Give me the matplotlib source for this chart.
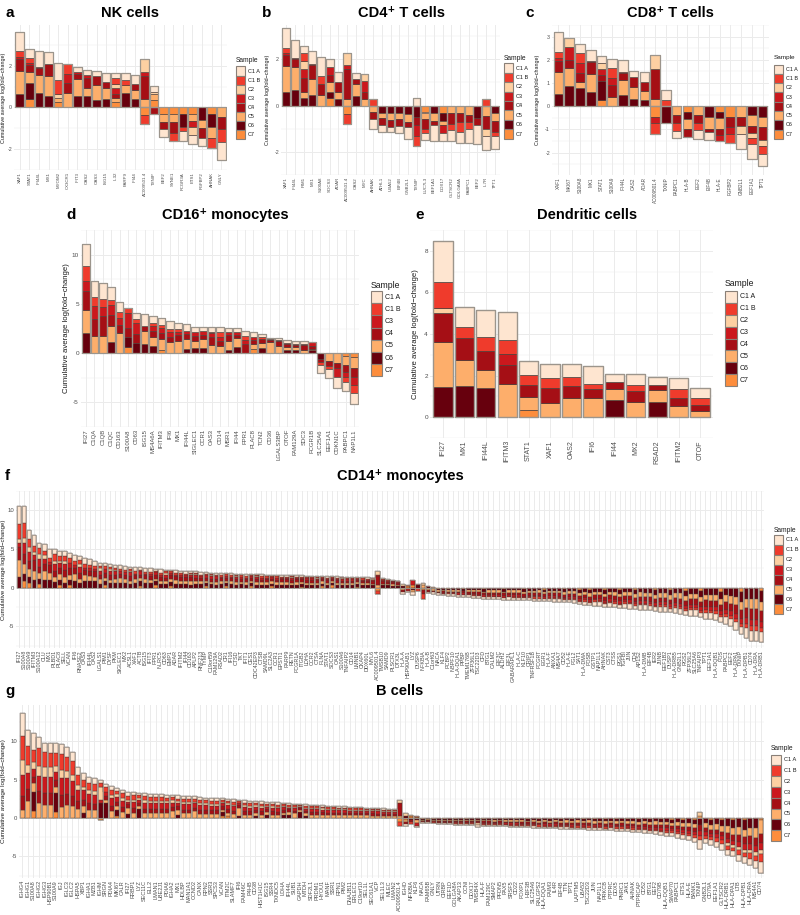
import matplotlib
matplotlib.use("Agg")
import matplotlib.pyplot as plt
from matplotlib.patches import Rectangle
import numpy as np

plt.rcParams['font.family'] = ['Liberation Sans', 'DejaVu Sans']
plt.rcParams['axes.unicode_minus'] = False

W, H = 800, 915
fig = plt.figure(figsize=(W / 100, H / 100), dpi=100)

# stacking order from zero outward: [C7, C6, C5, C4, C3, C2, C1 B, C1 A]
STACK = ["C7", "C6", "C5", "C4", "C3", "C2", "C1 B", "C1 A"]
COLORS = {"C1 A": "#FEE5D0", "C1 B": "#EF3B2C", "C2": "#FDD0A2", "C3": "#CB181D",
          "C4": "#A50F15", "C5": "#FDAE6B", "C6": "#67000D", "C7": "#FD8D3C"}
LEGEND_ALL = ["C1 A", "C1 B", "C2", "C3", "C4", "C5", "C6", "C7"]
LEGEND_D = ["C1 A", "C1 B", "C3", "C4", "C5", "C6", "C7"]

# ---------------- Panel a: NK cells ----------------
A_GENES = ["XAF1", "STAT1", "IFI44L", "MX1", "MYOM2", "CX3CR1", "IFIT3", "OAS2", "OAS3", "ISG15",
           "IL32", "PARP9", "IFI44", "AC009501.4", "TXNIP", "EEF2", "SYNE1", "FCGR3A", "ETS1",
           "FGFBP2", "AHNAK", "GNLY"]
A_VALUES = [
    [0, .65, 1.11, .56, .11, 0, .27, .92],
    [.39, .79, .5, .35, .1, 0, .23, .45],
    [0, .7, .83, .35, .06, 0, 0, .77],
    [0, .55, .95, .56, 0, 0, 0, .58],
    [.24, 0, .23, 0, 0, .15, .68, .82],
    [0, 0, .7, .45, .45, 0, .5, 0],
    [0, .55, .83, .2, .1, 0, 0, .24],
    [0, .55, .38, .5, .1, 0, 0, .26],
    [0, .36, .71, .45, 0, 0, 0, .23],
    [0, .39, .53, .3, 0, 0, 0, .44],
    [.24, 0, .23, .15, .3, .2, .27, .25],
    [0, .7, .38, 0, 0, 0, .23, .32],
    [0, .39, .45, .27, 0, 0, 0, .45],
    [-.35, 0, .4, 1.1, .2, .6, -.45, 0],
    [.35, 0, .3, -.32, 0, .1, 0, .3],
    [-.3, 0, -.4, -.35, 0, 0, 0, -.35],
    [-.3, 0, -.4, -.55, 0, 0, -.35, 0],
    [-.3, -.65, 0, 0, 0, 0, -.2, -.45],
    [-.3, 0, -.35, 0, -.3, -.35, 0, -.45],
    [0, -.6, -.4, -.45, 0, 0, 0, -.4],
    [-.3, -.65, -.5, 0, 0, 0, -.5, 0],
    [0, 0, -.45, -.6, 0, 0, -.6, -.85],
]

# ---------------- Panel b: CD4+ T cells ----------------
B_GENES = ["XAF1", "IFI44L", "PIM1", "MX1", "S100A8", "SOCS3", "ADAR", "AC009501.4", "OAS2", "MYC",
           "AHNAK", "ATHL1", "UBA52", "EIF4B", "GNB2L1", "TXNIP", "LUC7L3", "EEF1A1", "DDX17",
           "GLTSCR2", "GOLGA8A", "PABPC1", "EEF2", "IL7R", "TPT1"]
B_VALUES = [
    [0, .6, 1.13, .45, .08, 0, .23, .84],
    [0, .67, 1.0, .35, .05, 0, 0, .77],
    [0, .33, .27, .6, .4, .33, .33, .31],
    [0, .47, .67, .6, .07, 0, 0, .56],
    [0, 0, .47, .47, 0, 0, .33, .83],
    [.33, .27, .4, .33, .33, 0, 0, .37],
    [0, .27, .33, .43, 0, 0, 0, .44],
    [-.35, 0, .27, 1.3, .17, .53, -.45, 0],
    [0, .4, .53, .2, 0, 0, 0, .29],
    [0, 0, .27, .33, .44, .33, 0, 0],
    [0, 0, -.27, -.33, 0, 0, .27, -.43],
    [0, -.33, -.2, -.33, 0, 0, 0, -.27],
    [0, -.33, -.3, -.3, 0, 0, 0, -.23],
    [0, -.33, -.27, -.27, 0, 0, 0, -.33],
    [0, -.36, -.35, -.23, 0, 0, 0, -.5],
    [0, -.5, 0, -.35, -.45, 0, -.45, .33],
    [-.3, 0, -.3, -.4, 0, 0, -.2, -.27],
    [0, -.33, -.33, -.2, 0, 0, 0, -.67],
    [-.33, -.33, -.2, 0, -.33, 0, 0, -.33],
    [0, 0, -.33, -.47, 0, 0, -.27, -.47],
    [0, 0, -.33, -.4, 0, 0, -.4, -.47],
    [0, 0, -.4, -.33, 0, 0, -.27, -.6],
    [0, -.53, 0, -.33, 0, 0, 0, -.8],
    [0, 0, -.47, -.53, 0, -.3, .27, -.6],
    [0, -.33, -.33, -.47, 0, 0, -.2, -.53],
]

# ---------------- Panel c: CD8+ T cells ----------------
C_GENES = ["XAF1", "MKI67", "S100A8", "MX1", "STAT1", "S100A9", "IFI44L", "OAS2", "ADAR",
           "AC009501.4", "TXNIP", "PABPC1", "HLA-B", "EEF2", "EIF4B", "HLA-E", "FGFBP2",
           "GNB2L1", "EEF1A1", "TPT1"]
C_VALUES = [
    [0, .52, .95, .5, .13, 0, .24, .84],
    [0, .89, .74, .38, .53, .42, 0, 0],
    [0, .8, .25, .4, .42, 0, .42, .39],
    [0, .61, .78, .5, .06, 0, 0, .47],
    [.28, .8, 0, .25, .28, .24, 0, .32],
    [0, 0, .4, .5, .3, 0, .45, .4],
    [0, .47, .64, .33, .05, 0, 0, .49],
    [0, .31, .52, .43, 0, 0, 0, .27],
    [0, .28, .38, .38, 0, 0, 0, .42],
    [-.46, 0, .33, 1.26, -.28, .6, -.46, 0],
    [0, -.7, 0, 0, 0, 0, .28, .42],
    [0, 0, -.36, -.35, 0, 0, -.36, -.31],
    [-.25, -.28, -.45, -.36, 0, 0, 0, 0],
    [0, 0, -.36, -.35, 0, 0, -.32, -.38],
    [0, -.46, -.52, -.14, 0, 0, 0, -.32],
    [-.25, -.25, -.47, -.25, -.28, 0, 0, 0],
    [-.46, 0, 0, -.45, -.3, 0, -.37, 0],
    [0, 0, -.46, -.38, 0, -.36, 0, -.66],
    [0, -.39, -.45, -.32, 0, -.21, -.25, -.66],
    [0, -.46, -.42, -.56, 0, -.28, -.35, -.49],
]

# ---------------- Panel d: CD16+ monocytes ----------------
D_GENES = ["IFI27", "C1QA", "C1QB", "C1QC", "CD163", "S100A8", "CD63", "ISG15", "MS4A6A", "IFITM3",
           "IFI6", "MX1", "IFI44L", "SIGLEC1", "CCR1", "OAS3", "CD14", "MSR1", "IFI44", "FPR1",
           "PLAC8", "TCN2", "CD36", "LGALS3BP", "OTOF", "FAM129A", "SDC3", "FCGR1B", "SLC25A6",
           "EEF1A1", "CDKN1C", "PABPC1", "NAP1L1"]
D_VALUES = [
    [0, 2.06, 2.33, 1.9, 1.06, 0, 1.5, 2.24],
    [0, 0, 1.76, 1.73, 1.3, 0, .9, 1.64],
    [0, 0, 1.76, 2.0, .9, 0, .85, 1.58],
    [0, 1.12, 1.6, 1.2, .97, 0, .55, 1.27],
    [0, 0, 2.06, .82, .7, 0, .58, 1.0],
    [.65, 1.0, 0, .95, 1.5, 0, .5, 0],
    [0, 1.0, 0, .97, 1.06, 0, .4, .6],
    [0, .97, 1.3, .45, 0, 0, 0, 1.27],
    [0, .76, .9, .6, .45, 0, .36, .7],
    [.36, 0, 1.09, .6, .5, 0, .3, .7],
    [0, 0, 1.15, .5, .45, 0, .3, .85],
    [0, 0, 1.21, .6, .3, 0, .3, .6],
    [0, .45, 1.0, .5, .3, 0, 0, .67],
    [0, .55, .67, .55, .36, 0, 0, .55],
    [0, .55, .9, .36, .45, 0, 0, .4],
    [0, 0, .85, .82, .36, 0, .1, .55],
    [0, 0, .76, .45, .45, 0, .45, .52],
    [0, .36, .85, .6, .36, 0, 0, .4],
    [0, .6, .97, .3, .24, 0, 0, .4],
    [0, 0, 0, .95, .4, 0, .4, .5],
    [.45, 0, .45, .45, .3, 0, 0, .45],
    [0, .55, .52, .4, 0, 0, .2, .3],
    [0, 0, 1.15, .15, .12, 0, 0, .15],
    [0, 0, .76, .45, .12, 0, 0, .18],
    [0, .36, .3, .24, .15, 0, 0, .3],
    [0, .36, .24, .21, .15, 0, 0, .3],
    [0, 0, .3, .55, .12, 0, 0, .24],
    [0, .3, .15, .3, .36, 0, 0, 0],
    [0, -.6, 0, -.35, 0, 0, -.3, -.8],
    [0, 0, -.75, -.6, 0, 0, -.3, -.9],
    [0, 0, -.97, -.55, -.9, 0, 0, -1.15],
    [-.3, 0, -.9, -.75, -.45, 0, -.55, -.85],
    [-.35, 0, -1.15, -.9, -.8, 0, -.8, -1.2],
]

# ---------------- Panel e: Dendritic cells ----------------
E_GENES = ["IFI27", "MX1", "IFI44L", "IFITM3", "STAT1", "XAF1", "OAS2", "IFI6", "IFI44", "MX2",
           "RSAD2", "IFITM2", "OTOF"]
E_VALUES = [
    [0, 1.45, 2.16, 1.39, 0, .27, 1.23, 1.95],
    [0, 1.49, 1.26, 1.07, 0, 0, .52, .96],
    [0, 1.39, .89, .89, 0, 0, .7, 1.29],
    [0, 0, 1.6, .93, .49, 0, .67, 1.38],
    [.36, 0, .62, .55, 0, 0, .49, .67],
    [0, 0, .68, .74, 0, 0, .47, .68],
    [0, 0, .93, .56, 0, 0, .44, .61],
    [0, 0, .93, .41, 0, 0, .25, .86],
    [0, .83, .52, .34, 0, 0, 0, .41],
    [0, 0, .74, .53, 0, 0, .3, .52],
    [0, .75, .55, .27, 0, 0, 0, .37],
    [0, 0, .52, .38, 0, 0, .44, .56],
    [0, 0, .3, .3, 0, 0, .3, .52],
]

# ---------------- Panel f: CD14+ monocytes ----------------
F_GENES = ["IFI27", "S100A8", "S100A9", "IFITM3", "S100A12", "CLU", "MX1", "PLBD1", "PLAC8", "SELL",
           "VCAN", "IFI6", "RNASE2", "OAS3", "IFI44L", "OAS2", "LGALS1", "PIM1", "DYSF", "PKM",
           "SIGLEC1", "MX2", "ACSL1", "XAF1", "ACTB", "ISG15", "IFIT3", "FPR1", "NLRC5", "CD63",
           "EMP1", "ADAR", "IFITM2", "IFI44", "CD163", "APLP2", "RNF213", "TYMP", "C19orf59", "FAM129A",
           "RSAD2", "CR1", "IFI16", "CTSD", "TKT", "IFIT1", "CES1", "CDC42EP3", "CTSB", "SAMD9L",
           "SLC2A3", "CCR1", "EPSTI1", "PARP9", "RETN", "FCGR1A", "ITGB2", "LDHA", "CCR2", "CTSA",
           "FLNA", "STAT1", "SOCS3", "OAS1", "S100A6", "TNFAIP2", "CD14", "LMNB1", "CKAP4", "DDX60L",
           "MYL6", "AC009501.4", "TMSB10", "SAMD9", "PLSCR1", "DTX3L",
           "HLA-A", "HSP90AB1", "LYZ", "DUSP6", "NFKBIA", "HLA-B", "C1orf63",
           "NACA", "KLF4", "PCBP2", "NBPF10", "HLA-DQA1", "PPBP", "TMEM176B", "ZFP36L1", "TSC22D3", "CFD",
           "BTG1", "CALM2", "EIF3C", "ALDH2", "EIF3L", "GABARAPL1", "HLA-C", "KLF10", "CRIP1", "TNFRSF1B",
           "FCGRT", "EGR1", "HLA-F", "ANXA1", "MS4A7", "CD52", "HLA-E", "FGL2", "SAT1", "HLA-DMA",
           "FOSB", "GSTP1", "NAP1L1", "AHNAK", "CST3", "CTSS", "RGS1", "TGFBI", "JUN", "CD4",
           "AP1S2", "HLA-DMB", "EIF4B", "IER2", "JUNB", "EEF1B2", "DUSP1", "HLA-DRB5", "GNB2L1", "RGS2",
           "ZFP36L2", "SLC25A6", "TNFAIP3", "TPT1", "EEF1A1", "HLA-DQB1", "FOS", "PABPC1", "EEF2", "HLA-DPA1",
           "TXNIP", "HLA-DPB1", "CD74", "HLA-DRA", "HLA-DRB1"]
F_VALUES = [
    [0, 1.4, 2.2, 1.6, .6, .5, 1.9, 2.3],
    [.8, 1.0, 1.3, 1.2, 1.5, .6, 2.0, 2.1],
    [.6, .8, 1.0, 1.0, 1.2, .7, 1.0, 1.2],
    [0, 1.0, 1.2, 1.4, .6, .35, .8, 1.4],
    [.5, .6, .8, .8, 1.0, .6, .8, .7],
    [0, 1.0, 1.1, .9, .7, .5, .6, .8],
    [0, 1.0, .9, 1.0, .4, 0, .5, 1.2],
    [0, .7, .7, .8, .9, .4, .8, .7],
    [.3, .7, .8, .8, .6, .3, .6, .65],
    [0, .6, .8, .9, .7, .5, .6, .65],
    [.4, .6, .6, .9, .7, 0, .6, .7],
    [0, .8, 1.0, .8, .3, 0, .5, .85],
    [0, .6, .5, .8, .8, .4, .5, .5],
    [0, .8, .8, .7, .3, 0, .4, .8],
    [0, .8, .7, .7, .3, 0, .4, .75],
    [0, .8, .6, .7, .3, 0, .35, .7],
    [0, .5, .6, .6, .5, .3, .35, .4],
    [.3, .5, .5, .6, .5, 0, .35, .4],
    [0, .6, .4, .7, .5, .2, .3, .35],
    [0, .6, .5, .6, .4, .2, .3, .35],
    [0, .6, .6, .6, .3, 0, .3, .5],
    [0, .6, .5, .6, .3, 0, .3, .5],
    [0, .5, .4, .6, .5, .2, .25, .25],
    [0, .6, .5, .5, .2, 0, .3, .55],
    [.2, .6, .4, .5, .4, 0, .25, .3],
    [0, .6, .5, .5, .2, 0, .25, .5],
    [0, .6, .45, .5, .2, 0, .25, .5],
    [.3, .5, .3, .5, .4, 0, .2, .2],
    [0, .5, .4, .5, .3, 0, .25, .4],
    [0, .5, .3, .5, .4, .2, .2, .2],
    [.2, .5, .4, .5, .3, 0, .2, .15],
    [0, .5, .45, .5, .2, 0, .2, .4],
    [0, .45, .4, .5, .25, 0, .25, .35],
    [0, .5, .4, .5, .2, 0, .2, .35],
    [0, .4, .5, .45, .3, .1, .2, .2],
    [0, .5, .35, .45, .3, .15, .15, .2],
    [0, .5, .35, .45, .2, 0, .2, .35],
    [.2, .4, .3, .4, .3, 0, .2, .2],
    [0, .45, .3, .4, .35, .15, .15, .15],
    [0, .4, .3, .45, .3, 0, .2, .25],
    [0, .45, .4, .4, .15, 0, .2, .3],
    [.2, .4, .3, .4, .25, 0, .18, .15],
    [0, .45, .35, .4, .2, 0, .2, .25],
    [0, .4, .3, .4, .3, .13, .15, .15],
    [0, .45, .3, .4, .25, 0, .2, .2],
    [0, .4, .35, .4, .15, 0, .18, .3],
    [.2, .35, .3, .35, .25, 0, .16, .15],
    [0, .4, .3, .4, .25, .1, .15, .15],
    [0, .4, .3, .35, .25, 0, .2, .22],
    [0, .4, .35, .4, .15, 0, .15, .25],
    [.18, .35, .3, .35, .2, 0, .15, .15],
    [0, .4, .3, .35, .25, 0, .18, .18],
    [0, .4, .35, .35, .14, 0, .15, .25],
    [0, .4, .35, .35, .14, 0, .15, .23],
    [0, .35, .3, .35, .25, .1, .1, .15],
    [0, .4, .35, .35, .15, 0, .15, .2],
    [.15, .35, .25, .35, .2, 0, .13, .15],
    [0, .4, .25, .35, .25, 0, .15, .16],
    [0, .35, .3, .35, .2, 0, .14, .2],
    [0, .35, .3, .3, .22, .1, .1, .15],
    [.2, .3, .3, .3, .2, 0, .1, .1],
    [0, .35, .3, .35, .13, 0, .15, .2],
    [.3, .3, .25, .3, .15, 0, .08, .08],
    [0, .35, .3, .3, .15, 0, .15, .2],
    [0, .35, .25, .3, .25, .1, .08, .1],
    [0, .3, .3, .3, .2, 0, .15, .17],
    [0, .3, .3, .3, .2, 0, .15, .15],
    [.15, .3, .25, .3, .18, 0, .1, .1],
    [0, .3, .25, .3, .2, 0, .15, .15],
    [0, .3, .3, .3, .13, 0, .12, .18],
    [0, .3, .2, .3, .2, .1, .1, .1],
    [-.4, 0, .3, 1.2, .2, .4, -.4, 0],
    [0, .3, .2, .3, .2, 0, .1, .1],
    [0, .3, .2, .25, .1, 0, .1, .15],
    [0, .25, .2, .25, .1, 0, .1, .1],
    [0, .2, .2, .2, .1, 0, .1, .1],
    [0, .2, -.3, -.2, 0, .3, 0, -.3],
    [.2, -.2, 0, .2, -.2, 0, 0, -.2],
    [.4, -.3, -.3, 0, .6, 0, 0, -.3],
    [-.2, .3, 0, .2, 0, 0, -.2, 0],
    [-.3, 0, .3, -.5, 0, .3, -.6, 0],
    [0, .2, -.3, -.2, 0, 0, 0, -.2],
    [.1, -.2, -.2, -.2, 0, 0, 0, -.2],
    [-.15, -.2, -.15, -.15, -.1, 0, 0, -.15],
    [0, -.25, -.2, -.2, -.15, 0, 0, -.2],
    [-.15, -.2, -.2, -.2, 0, 0, -.1, -.2],
    [0, -.3, -.2, -.2, -.15, 0, 0, -.25],
    [0, -.3, -.2, -.25, -.15, 0, 0, -.25],
    [-.2, -.2, 0, -.3, -.2, 0, -.1, -.2],
    [0, -.3, -.25, -.25, -.15, 0, 0, -.3],
    [0, -.3, -.25, -.3, -.15, 0, -.1, -.2],
    [0, -.35, -.25, -.3, -.15, 0, 0, -.3],
    [-.2, -.3, -.2, -.3, -.15, 0, 0, -.25],
    [0, -.35, -.3, -.3, -.15, 0, -.1, -.25],
    [0, -.35, -.3, -.3, -.2, 0, -.1, -.25],
    [0, -.35, -.3, -.35, -.15, 0, -.1, -.25],
    [-.2, -.3, -.25, -.35, -.2, 0, 0, -.25],
    [0, -.35, -.3, -.35, -.15, 0, -.1, -.3],
    [0, -.35, -.3, -.35, -.2, 0, -.1, -.3],
    [0, -.3, -.35, -.35, -.2, 0, -.1, -.3],
    [-.2, -.35, -.25, -.35, -.2, 0, 0, -.3],
    [0, -.4, -.3, -.35, -.2, 0, -.1, -.3],
    [0, -.4, -.3, -.35, -.2, 0, -.15, -.3],
    [0, -.35, -.35, -.35, -.2, 0, -.15, -.3],
    [-.25, -.35, -.25, -.35, -.2, 0, 0, -.35],
    [0, -.4, -.3, -.4, -.2, 0, -.15, -.3],
    [0, -.4, -.35, -.35, -.2, 0, -.15, -.35],
    [0, -.4, -.35, -.4, -.2, 0, -.15, -.35],
    [-.2, -.4, -.3, -.4, -.2, 0, -.1, -.3],
    [0, -.45, -.35, -.4, -.2, 0, -.15, -.35],
    [0, -.45, -.4, -.4, -.2, 0, -.15, -.4],
    [-.3, -.4, -.35, -.4, -.25, 0, -.1, -.3],
    [0, -.5, -.4, -.45, -.25, 0, -.2, -.4],
    [-.3, -.45, -.4, -.45, -.25, 0, -.15, -.3],
    [0, -.5, -.45, -.45, -.25, 0, -.2, -.5],
    [0, -.5, -.45, -.5, -.25, 0, -.2, -.5],
    [-.3, -.5, -.4, -.5, -.25, 0, -.15, -.4],
    [0, -.55, -.45, -.5, -.3, 0, -.2, -.5],
    [0, -.55, -.5, -.5, -.3, 0, -.2, -.5],
    [-.3, -.5, -.45, -.5, -.3, 0, -.15, -.4],
    [0, -.6, -.5, -.5, -.3, 0, -.2, -.55],
    [0, -.6, -.5, -.55, -.3, 0, -.2, -.55],
    [-.3, -.55, -.45, -.55, -.3, 0, -.2, -.4],
    [0, -.6, -.55, -.55, -.35, 0, -.2, -.6],
    [0, -.65, -.55, -.55, -.35, 0, -.2, -.6],
    [0, -.65, -.55, -.6, -.35, 0, -.2, -.6],
    [-.35, -.6, -.5, -.55, -.35, 0, -.2, -.45],
    [0, -.7, -.6, -.6, -.35, 0, -.2, -.65],
    [0, -.7, -.6, -.6, -.35, 0, -.25, -.65],
    [-.35, -.65, -.55, -.6, -.35, 0, -.2, -.5],
    [0, -.75, -.6, -.65, -.4, 0, -.25, -.65],
    [0, -.75, -.65, -.65, -.4, 0, -.25, -.7],
    [-.4, -.7, -.6, -.7, -.4, 0, -.2, -.5],
    [0, -.8, -.7, -.7, -.4, 0, -.3, -.7],
    [0, -.8, -.7, -.7, -.45, 0, -.3, -.75],
    [-.4, -.75, -.65, -.75, -.45, 0, -.25, -.55],
    [0, -.9, -.75, -.8, -.5, 0, -.3, -.75],
    [0, -.9, -.8, -.8, -.5, 0, -.3, -.8],
    [0, -.9, -.8, -.85, -.5, 0, -.35, -.8],
    [-.5, -.9, -.8, -.85, -.5, 0, -.3, -.65],
    [0, -1.0, -.9, -.95, -.55, 0, -.4, -.9],
    [0, -1.1, -.95, -1.0, -.6, 0, -.4, -.95],
    [0, -1.2, -1.05, -1.1, -.65, 0, -.45, -1.05],
    [-.6, -1.3, -1.0, -1.1, -.7, 0, -.4, -.9],
    [0, -1.4, -1.2, -1.3, -.8, 0, -.5, -1.3],
    [0, -1.5, -1.3, -1.4, -.8, 0, -.55, -1.35],
    [0, -1.5, -1.3, -1.4, -.8, 0, -.55, -1.35],
    [-.4, -1.4, -1.2, -1.4, -.8, 0, -.5, -1.3],
]

# ---------------- Panel g: B cells ----------------
G_GENES = ["IGHG4", "IGHG1", "S100A8", "IGHG2", "IGHG3", "HSP90B1", "S100A9", "IGJ", "IGLC3", "IGLC2",
           "HSPA5", "XBP1", "IGHA1", "MZB1", "IGHM", "SRGN", "PDIA4", "MKI67", "CALR", "IFI27",
           "RRBP1", "LYZ", "SEC11C", "ELL2", "LMAN1", "UBE2J1", "PDIA6", "IGHA2", "MX1", "HDLBP",
           "MAN1A1", "CCND2", "CANX", "RPN2", "SSR3", "SPCS3", "VCAN", "ITM2C", "SLAMF7", "IFI6",
           "FAM46C", "P4HB", "CD38", "HIST1H1C", "ISG15", "SSR4", "TXNDC5", "LDHA", "IFI44L", "SUB1",
           "GAPDH", "MTDH", "SDF2L1", "PRDM1", "HYOU1", "MANF", "SSR1", "RPN1", "PIM2", "DNAJB11",
           "ERLEC1", "C19orf10", "SEL1L", "SEC61A1", "VCP", "SEL1L3", "MLEC", "LMAN2", "AC009501.4",
           "IGHD", "NFKBIA", "KLF6", "NACA", "FAM65B", "GNLY", "UTRN", "CIRBP", "EEF1D", "GOLGA8A",
           "AKAP13", "CCNI", "DDX17", "TMSB4X", "HLA-F", "FAM129C", "SMAP2", "PFDN5", "PAX5", "SRSF5",
           "CD22", "FOXP1", "H3F3B", "SLC25A6", "RALGPS2", "HLA-DQA1", "FAIM3", "IL4R", "EIF4B", "TTN",
           "TPT1", "LAPTM5", "UBA52", "TSC22D3", "JUN", "NAP1L1", "PRKCB", "PTPRC", "DDX5", "PNRC1",
           "JAK1", "AHNAK", "PTPRCAP", "CD52", "BTG1", "EEF2", "CD79B", "HLA-DQB1", "SWAP70", "PABPC1",
           "ETS1", "HLA-E", "BANK1", "TXNIP", "GNB2L1", "CD79A", "EEF1A1", "GLTSCR2", "HLA-DRB1", "HLA-DPA1",
           "LTB", "HLA-DPB1", "HLA-DRA", "MS4A1", "CD74"]
G_VALUES = [
    [0, 0, 1.0, 1.9, 2.7, 1.9, 3.2, 3.0],
    [0, 0, 2.2, 1.6, 2.1, 1.0, 2.5, 2.0],
    [.9, 2.5, 1.2, .8, 1.0, .9, 1.5, 2.3],
    [0, 0, 2.0, 1.5, 2.0, 1.3, 2.3, 1.5],
    [0, 0, 1.7, 1.5, 2.2, 1.2, 2.0, 1.2],
    [0, 0, 1.7, 1.6, 2.1, 1.2, 1.9, 1.3],
    [.8, 2.5, .8, .9, 1.0, .8, 1.6, 1.4],
    [0, 0, 1.4, 1.6, 2.2, 1.1, 2.0, 1.3],
    [0, 0, 1.7, 1.4, 2.1, .9, 1.9, 1.3],
    [0, 0, 1.5, 1.3, 2.0, .8, 1.8, 1.2],
    [0, 0, 1.2, 1.0, 1.5, .6, 1.3, 1.05],
    [0, .6, .9, .9, 1.2, .5, .9, .8],
    [0, 0, 1.0, .9, 1.2, .5, .9, .85],
    [0, 0, 1.0, .8, 1.2, .5, .9, .8],
    [-.25, 2.0, 0, 0, .4, 1.6, .6, .4],
    [0, 2.0, .4, .4, .6, 0, .6, .45],
    [0, 0, .9, .7, 1.0, .4, .7, .5],
    [.3, .8, .4, .6, .6, .4, .4, .4],
    [0, 0, .8, .6, .8, .4, .6, .4],
    [0, .5, .8, .5, .3, .2, .5, .65],
    [0, 0, .7, .6, .8, .3, .55, .4],
    [0, 1.2, .3, .4, .5, .2, .35, .3],
    [0, 0, .6, .6, .8, .3, .5, .4],
    [0, 0, .6, .6, .75, .3, .5, .4],
    [0, 0, .6, .6, .75, .3, .47, .4],
    [0, 0, .6, .6, .75, .3, .45, .4],
    [0, 0, .6, .6, .7, .3, .45, .4],
    [0, 0, .9, .5, .6, .3, .4, .3],
    [0, .4, .6, .6, .4, .2, .3, .45],
    [0, 0, .6, .5, .7, .3, .4, .37],
    [0, 0, .6, .5, .7, .3, .4, .33],
    [0, 0, .9, .4, .6, .2, .4, .3],
    [0, 0, .55, .5, .65, .3, .4, .35],
    [0, 0, .55, .5, .6, .25, .4, .35],
    [0, 0, .5, .5, .6, .25, .4, .35],
    [0, 0, .5, .5, .6, .25, .4, .35],
    [.3, .5, .3, .4, .4, .2, .25, .2],
    [.2, 0, .5, .45, .55, .2, .35, .25],
    [0, 0, .5, .45, .55, .25, .37, .35],
    [0, .3, 1.0, .4, .2, .1, .2, .2],
    [0, 0, .45, .45, .5, .25, .35, .3],
    [0, 0, .45, .4, .5, .25, .35, .3],
    [0, .3, .3, .4, .45, .2, .3, .27],
    [0, 0, .45, .4, .5, .2, .33, .3],
    [0, .4, .4, .4, .25, .1, .25, .33],
    [0, 0, .45, .4, .45, .2, .3, .3],
    [0, 0, .4, .4, .45, .2, .3, .3],
    [0, .4, .3, .35, .35, .15, .25, .2],
    [0, .4, .4, .35, .2, .1, .2, .3],
    [0, 0, .6, .3, .4, .15, .23, .2],
    [0, .8, .2, .25, .2, .1, .15, .13],
    [0, .3, .3, .3, .3, .15, .23, .2],
    [0, 0, .4, .35, .4, .2, .2, .19],
    [0, 0, .4, .35, .4, .15, .2, .2],
    [0, 0, .4, .35, .35, .15, .21, .2],
    [0, 0, .4, .3, .35, .15, .22, .2],
    [0, 0, .4, .3, .35, .15, .2, .18],
    [0, 0, .4, .3, .33, .15, .18, .18],
    [0, 0, .4, .3, .3, .15, .18, .17],
    [0, 0, .35, .3, .3, .15, .18, .18],
    [0, 0, .35, .3, .3, .14, .17, .17],
    [0, 0, .35, .3, .3, .13, .16, .16],
    [0, 0, .35, .28, .3, .13, .15, .15],
    [0, 0, .3, .3, .28, .12, .16, .16],
    [0, 0, .3, .28, .28, .12, .15, .15],
    [0, 0, .3, .27, .27, .12, .14, .14],
    [0, 0, .3, .25, .25, .12, .14, .14],
    [0, 0, .3, .25, .24, .1, .13, .13],
    [-.5, 0, .3, 1.6, 0, .45, -.6, 0],
    [-.2, .3, -.3, -.3, 0, .3, 0, -.2],
    [.2, -.3, .2, -.2, 0, 0, -.3, 0],
    [.15, -.3, -.3, .15, -.4, 0, 0, -.2],
    [-.1, -.15, -.1, -.1, -.05, 0, -.05, -.05],
    [0, -.15, -.15, -.1, -.1, 0, -.05, -.1],
    [-.1, -.15, -.1, -.1, -.1, 0, -.05, -.1],
    [0, -.2, -.15, -.15, -.1, 0, -.05, -.1],
    [-.1, -.15, -.15, -.1, -.1, 0, -.08, -.1],
    [0, -.2, -.15, -.15, -.1, 0, -.1, -.1],
    [-.1, -.15, -.15, -.15, -.1, 0, -.1, -.1],
    [0, -.2, -.15, -.15, -.13, 0, -.1, -.15],
    [-.1, -.2, -.15, -.15, -.1, 0, -.1, -.1],
    [0, -.2, -.2, -.15, -.13, 0, -.1, -.15],
    [0, -.2, -.2, -.1, -.1, -.3, 0, -.25],
    [-.1, -.2, -.15, -.15, -.15, 0, -.1, -.15],
    [0, -.25, -.2, -.15, -.15, 0, -.12, -.15],
    [-.1, -.2, -.2, -.15, -.15, 0, -.1, -.15],
    [0, -.25, -.2, -.2, -.15, 0, -.13, -.15],
    [-.1, -.2, -.2, -.2, -.15, 0, -.1, -.15],
    [0, -.25, -.25, -.2, -.15, 0, -.15, -.15],
    [-.1, -.2, -.2, -.2, -.17, 0, -.15, -.15],
    [0, -.3, -.25, -.2, -.15, 0, -.15, -.15],
    [-.1, -.25, -.2, -.2, -.17, 0, -.15, -.15],
    [0, -.3, -.25, -.2, -.2, 0, -.15, -.15],
    [-.1, -.25, -.25, -.2, -.17, 0, -.15, -.15],
    [0, -.3, -.25, -.25, -.2, 0, -.15, -.15],
    [-.12, -.25, -.25, -.2, -.2, 0, -.15, -.15],
    [0, -.3, -.25, -.25, -.2, 0, -.15, -.2],
    [-.12, -.25, -.25, -.25, -.2, 0, -.15, -.15],
    [0, -.3, -.3, -.25, -.2, 0, -.15, -.2],
    [-.12, -.3, -.25, -.25, -.2, 0, -.15, -.15],
    [0, -.3, -.3, -.25, -.2, 0, -.2, -.2],
    [-.12, -.3, -.25, -.25, -.2, 0, -.15, -.2],
    [0, -.3, -.3, -.3, -.2, 0, -.2, -.2],
    [-.12, -.3, -.3, -.25, -.2, 0, -.15, -.2],
    [0, -.35, -.3, -.3, -.2, 0, -.2, -.2],
    [-.13, -.3, -.3, -.3, -.2, 0, -.15, -.2],
    [0, -.35, -.3, -.3, -.2, 0, -.2, -.25],
    [-.13, -.3, -.3, -.3, -.2, 0, -.2, -.2],
    [0, -.35, -.35, -.3, -.22, 0, -.2, -.25],
    [-.15, -.3, -.3, -.3, -.2, 0, -.2, -.25],
    [0, -.4, -.35, -.35, -.25, 0, -.2, -.25],
    [-.15, -.35, -.35, -.3, -.25, 0, -.2, -.25],
    [0, -.4, -.4, -.35, -.25, 0, -.2, -.3],
    [-.15, -.4, -.35, -.35, -.25, 0, -.2, -.3],
    [0, -.45, -.4, -.4, -.25, 0, -.25, -.35],
    [-.15, -.4, -.4, -.4, -.3, 0, -.2, -.35],
    [0, -.5, -.45, -.4, -.3, 0, -.25, -.4],
    [-.2, -.45, -.4, -.4, -.3, 0, -.25, -.4],
    [0, -.5, -.5, -.45, -.35, 0, -.3, -.45],
    [-.2, -.5, -.45, -.45, -.35, 0, -.3, -.45],
    [0, -.6, -.55, -.5, -.4, 0, -.35, -.5],
    [-.2, -.6, -.55, -.5, -.4, 0, -.35, -.5],
    [0, -.9, .3, -.8, -.6, .45, -.6, -1.1],
    [0, -.7, -.6, -.55, -.45, 0, -.4, -.6],
    [-.25, -.65, -.6, -.55, -.45, 0, -.4, -.6],
    [0, -.8, -.7, -.6, -.5, 0, -.5, -.7],
    [-.3, -.8, -.7, -.6, -.5, 0, -.5, -.7],
    [0, -1.0, -.9, -.8, -.6, -.3, -.5, -.7],
    [-.3, -1.0, -.85, -.8, -.6, -.3, -.5, -.65],
    [0, -1.2, -1.0, -.9, -.7, -.4, -.6, -.8],
    [-.3, -1.2, -1.0, -.9, -.7, -.4, -.6, -.8],
    [0, -1.3, -1.1, -1.0, -.8, -.4, -.7, -.8],
    [0, -1.3, -1.3, -1.0, -.8, -.5, -.7, -.9],
    [-.3, 0, -1.8, -1.1, -.9, -.6, -1.0, -1.4],
]

SEG_EDGE = "#4a3a36"
OUT_EDGE = "#9c958c"
GRID = "#EBEBEB"
TXT = "#4D4D4D"


def px_axes(l, t, r, b):
    return fig.add_axes([l / W, 1 - b / H, (r - l) / W, (b - t) / H])


def panel(rect, genes, rows, ylim, yticks, label_fs, tick_fs, seg_lw, out_lw):
    assert len(genes) == len(rows), (len(genes), len(rows))
    ax = px_axes(*rect)
    vals = np.array(rows, dtype=float)
    n = len(genes)
    x = np.arange(n)
    pos = np.zeros(n)
    neg = np.zeros(n)
    for j, s in enumerate(STACK):
        v = vals[:, j]
        mp = v > 0
        mn = v < 0
        if mp.any():
            ax.bar(x[mp], v[mp], 0.9, bottom=pos[mp], color=COLORS[s],
                   edgecolor=SEG_EDGE, linewidth=seg_lw, zorder=2)
        if mn.any():
            ax.bar(x[mn], v[mn], 0.9, bottom=neg[mn], color=COLORS[s],
                   edgecolor=SEG_EDGE, linewidth=seg_lw, zorder=2)
        pos += np.where(mp, v, 0)
        neg += np.where(mn, v, 0)
    for tot in (pos, neg):
        m = tot != 0
        ax.bar(x[m], tot[m], 0.9, fill=False, edgecolor=OUT_EDGE,
               linewidth=out_lw, zorder=3)
    ax.set_xlim(-0.6, n - 0.4)
    ax.set_ylim(*ylim)
    ax.set_xticks(x)
    ax.set_xticklabels(genes, rotation=90, fontsize=label_fs, color=TXT)
    ax.set_yticks(yticks)
    ax.set_yticklabels([str(t) for t in yticks], fontsize=tick_fs, color=TXT)
    step = yticks[1] - yticks[0]
    minors = [t + step / 2 for t in [yticks[0] - step] + list(yticks)]
    ax.set_yticks(minors, minor=True)
    ax.tick_params(axis='both', which='both', length=0, pad=1.5)
    ax.grid(True, which='major', color=GRID, linewidth=0.7, zorder=0)
    ax.grid(True, which='minor', axis='y', color=GRID, linewidth=0.35, zorder=0)
    ax.set_axisbelow(True)
    for sp in ax.spines.values():
        sp.set_visible(False)
    ax.patch.set_alpha(0)
    return ax


def ylabel(xp, rect, fs):
    yc = (rect[1] + rect[3]) / 2
    fig.text(xp / W, 1 - yc / H, "Cumulative average log(fold\u2212change)", rotation=90,
             ha='center', va='center', fontsize=fs, color='#1a1a1a')


def legend(x, y_title, y_first, step, key_w, samples, title_fs, lab_fs):
    fig.text(x / W, 1 - y_title / H, "Sample", fontsize=title_fs, ha='left', va='center',
             color='#1a1a1a')
    for i, s in enumerate(samples):
        top = y_first + i * step
        r = Rectangle((x / W, 1 - (top + step) / H), key_w / W, step / H,
                      transform=fig.transFigure, facecolor=COLORS[s],
                      edgecolor="#8a8078", linewidth=0.8)
        fig.add_artist(r)
        fig.text((x + key_w + 3) / W, 1 - (top + step / 2) / H, s, fontsize=lab_fs,
                 ha='left', va='center', color='#1a1a1a')


def title(xc, yc, s, fs=10.5):
    fig.text(xc / W, 1 - yc / H, s, ha='center', va='center', fontsize=fs, fontweight='bold',
             family=['Liberation Sans', 'DejaVu Sans'])


def letter(x, yc, s):
    fig.text(x / W, 1 - yc / H, s, ha='left', va='center', fontsize=11, fontweight='bold')


# ---- panel a
ra = (14, 25, 227, 170)
panel(ra, A_GENES, A_VALUES, (-2.64, 3.95), [-2, 0, 2], 3.2, 3.8, 0.45, 0.9)
ylabel(4, ra, 3.9)
legend(236, 60, 66.5, 9.1, 8.5, LEGEND_ALL, 4.8, 4.0)
title(130, 13, "NK cells")
letter(5, 13, "a")

# ---- panel b
rb = (281, 25, 500, 175)
panel(rb, B_GENES, B_VALUES, (-2.52, 3.48), [-2, 0, 2], 3.2, 3.8, 0.45, 0.9)
ylabel(268, rb, 3.9)
legend(504, 58, 63.5, 9.4, 8.5, LEGEND_ALL, 4.8, 4.0)
title(402, 13, "CD4\u207a T cells")
letter(262, 13, "b")

# ---- panel c
rc = (552, 25, 769, 175)
panel(rc, C_GENES, C_VALUES, (-2.96, 3.3), [-2, -1, 0, 1, 2, 3], 3.3, 3.8, 0.45, 0.9)
ylabel(537, rc, 3.9)
legend(774, 58, 64.5, 9.3, 8.5, LEGEND_ALL, 4.6, 3.9)
title(670, 13, "CD8\u207a T cells")
letter(525, 13, "c")

# ---- panel d
rd = (81, 230, 359, 427)
panel(rd, D_GENES, D_VALUES, (-6.0, 11.7), [-5, 0, 5, 10], 4.3, 4.6, 0.45, 0.9)
ylabel(66, rd, 5.6)
legend(371, 285, 291, 12.2, 11, LEGEND_D, 6.2, 5.0)
title(225, 215, "CD16\u207a monocytes")
letter(66, 215, "d")

# ---- panel e
re_ = (430, 230, 713, 438)
panel(re_, E_GENES, E_VALUES, (-0.42, 8.85), [0, 2, 4, 6, 8], 5.0, 4.6, 0.5, 1.0)
ylabel(415, re_, 5.6)
legend(725, 283, 291, 11.9, 12, LEGEND_ALL, 6.2, 5.0)
title(587, 215, "Dendritic cells")
letter(415, 215, "e")

# ---- panel f
rf = (16, 491, 764, 648)
panel(rf, F_GENES, F_VALUES, (-7.8, 11.3), [-5, 0, 5, 10], 3.9, 4.3, 0.3, 0.5)
ylabel(4, rf, 4.3)
legend(774, 530, 535, 9.9, 9, LEGEND_ALL, 4.8, 4.1)
title(400, 476, "CD14\u207a monocytes")
letter(5, 476, "f")

# ---- panel g
rg = (19, 705, 764, 878)
panel(rg, G_GENES, G_VALUES, (-7.8, 14.7), [-5, 0, 5, 10], 4.0, 4.3, 0.3, 0.5)
ylabel(4, rg, 4.5)
legend(771, 749, 754.5, 10.8, 10, LEGEND_ALL, 4.8, 4.1)
title(400, 691, "B cells")
letter(5, 691, "g")

fig.savefig("out.png", dpi=100)
